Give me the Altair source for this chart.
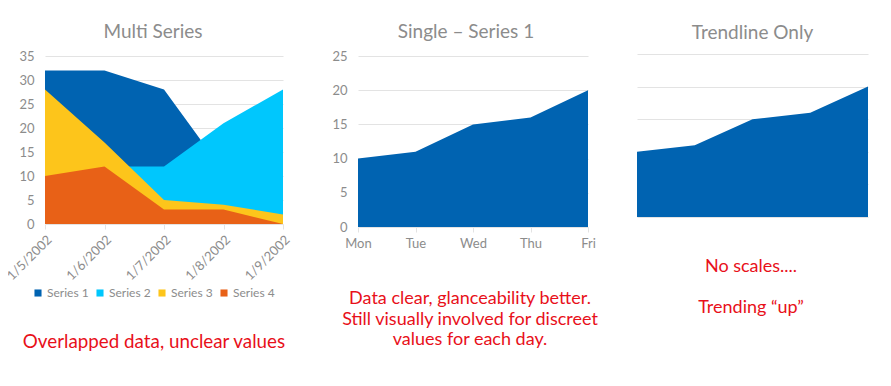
import altair as alt
import pandas as pd

# ---- data ----
dates = ["1/5/2002", "1/6/2002", "1/7/2002", "1/8/2002", "1/9/2002"]
series_names = ["Series 1", "Series 2", "Series 3", "Series 4"]
series1 = [32, 32, 28, 11, 12]
series2 = [12, 12, 12, 21, 28]
series3 = [28, 17, 5, 4, 2]
series4 = [10, 12, 3, 3, 0]
series_colors = ["#0063b1", "#00c7fd", "#fdc51b", "#e86117"]

days = ["Mon", "Tue", "Wed", "Thu", "Fri"]
day_values = [10, 11, 15, 16, 20]

titles = ["Multi Series", "Single \u2013 Series 1", "Trendline Only"]
notes1 = ["Overlapped data, unclear values"]
notes2 = ["Data clear, glanceability better.",
          "Still visually involved for discreet",
          "values for each day."]
notes3 = ["No scales....", "Trending \u201cup\u201d"]

y_ticks1 = [0, 5, 10, 15, 20, 25, 30, 35]
y_ticks2 = [0, 5, 10, 15, 20, 25]

# ---- style ----
FONT = "Lato"
GRAY = "#8c8c8c"
RED = "#e8101a"
BLUE = "#0063b1"

rows = []
for name, vals in zip(series_names, [series1, series2, series3, series4]):
    for d, v in zip(dates, vals):
        rows.append({"date": d, "series": name, "value": v})
multi_df = pd.DataFrame(rows)
single_df = pd.DataFrame({"day": days, "value": day_values})
dummy = pd.DataFrame({"n": [0]})

x1 = alt.X("date:N", sort=dates, scale=alt.Scale(type="point", padding=0),
           axis=alt.Axis(title=None, labelAngle=315, grid=False, domain=False,
                         ticks=True, tickSize=5, tickColor="#e3e3e3",
                         labelPadding=4, labelFontSize=13))
y1 = alt.Y("value:Q", scale=alt.Scale(domain=[0, 35], nice=False),
           axis=alt.Axis(title=None, values=y_ticks1, ticks=False, domain=False,
                         labelPadding=11, labelFontSize=13))
color = alt.Color("series:N",
                  scale=alt.Scale(domain=series_names, range=series_colors),
                  legend=alt.Legend(title=None, orient="none", direction="horizontal",
                                    legendX=-13, legendY=231, symbolType="square",
                                    symbolSize=50, symbolStrokeWidth=0,
                                    labelFontSize=12, labelColor=GRAY, labelFont=FONT,
                                    columnPadding=5, labelOffset=3))

areas = [
    alt.Chart(multi_df).transform_filter(alt.datum.series == name)
    .mark_area(opacity=1, line=False)
    .encode(x=x1, y=y1, color=color)
    for name in series_names
]
text1 = alt.Chart(dummy).mark_text(
    text=notes1, font=FONT, fontSize=18.8, color=RED, align="center",
    baseline="alphabetic").encode(x=alt.value(109), y=alt.value(292))

c1 = alt.layer(*areas, text1).properties(
    width=238, height=168,
    title=alt.Title(titles[0], frame="group", dx=-11, offset=8))

c2_area = alt.Chart(single_df).mark_area(color=BLUE, opacity=1).encode(
    x=alt.X("day:N", sort=days, scale=alt.Scale(type="point", padding=0),
            axis=alt.Axis(title=None, labelAngle=0, grid=False, domain=False,
                          ticks=True, tickSize=5, tickColor="#e3e3e3",
                          labelPadding=5, labelFontSize=13)),
    y=alt.Y("value:Q", scale=alt.Scale(domain=[0, 25], nice=False),
            axis=alt.Axis(title=None, values=y_ticks2, ticks=False, domain=False,
                          labelPadding=11, labelFontSize=13)))
text2 = alt.Chart(dummy).mark_text(
    text=notes2, font=FONT, fontSize=18, color=RED, align="center",
    baseline="alphabetic", lineHeight=20.5).encode(x=alt.value(112), y=alt.value(248))
c2 = alt.layer(c2_area, text2).properties(
    width=230, height=171,
    title=alt.Title(titles[1], frame="group", dx=-7, offset=8))

c3_area = alt.Chart(single_df).mark_area(color=BLUE, opacity=1).encode(
    x=alt.X("day:N", sort=days, scale=alt.Scale(type="point", padding=0), axis=None),
    y=alt.Y("value:Q", scale=alt.Scale(domain=[0, 25], nice=False, range=[161, -2]),
            axis=alt.Axis(title=None, values=y_ticks2, labels=False, ticks=False,
                          domain=False, grid=True)))
text3 = alt.Chart(dummy).mark_text(
    text=notes3, font=FONT, fontSize=18, color=RED, align="center",
    baseline="alphabetic", lineHeight=41).encode(x=alt.value(114), y=alt.value(216))
c3 = alt.layer(c3_area, text3).properties(
    width=231, height=161,
    title=alt.Title(titles[2], frame="group", dx=0, offset=13))


def spacer(w):
    return alt.Chart(dummy).mark_point(opacity=0).properties(width=w, height=1)


chart = alt.hconcat(
    c1, spacer(75), c2, spacer(49), c3, spacing=0, bounds="flush"
).properties(
    padding={"left": -4, "top": 15, "right": 5, "bottom": 5}
).configure_view(stroke=None).configure_axis(
    labelFont=FONT, labelColor=GRAY, gridColor="#e3e3e3", gridWidth=1
).configure_title(
    font=FONT, fontSize=19, color=GRAY, fontWeight="normal", anchor="middle"
)

chart.save("out.html", embed_options={"renderer": "svg", "actions": False})
